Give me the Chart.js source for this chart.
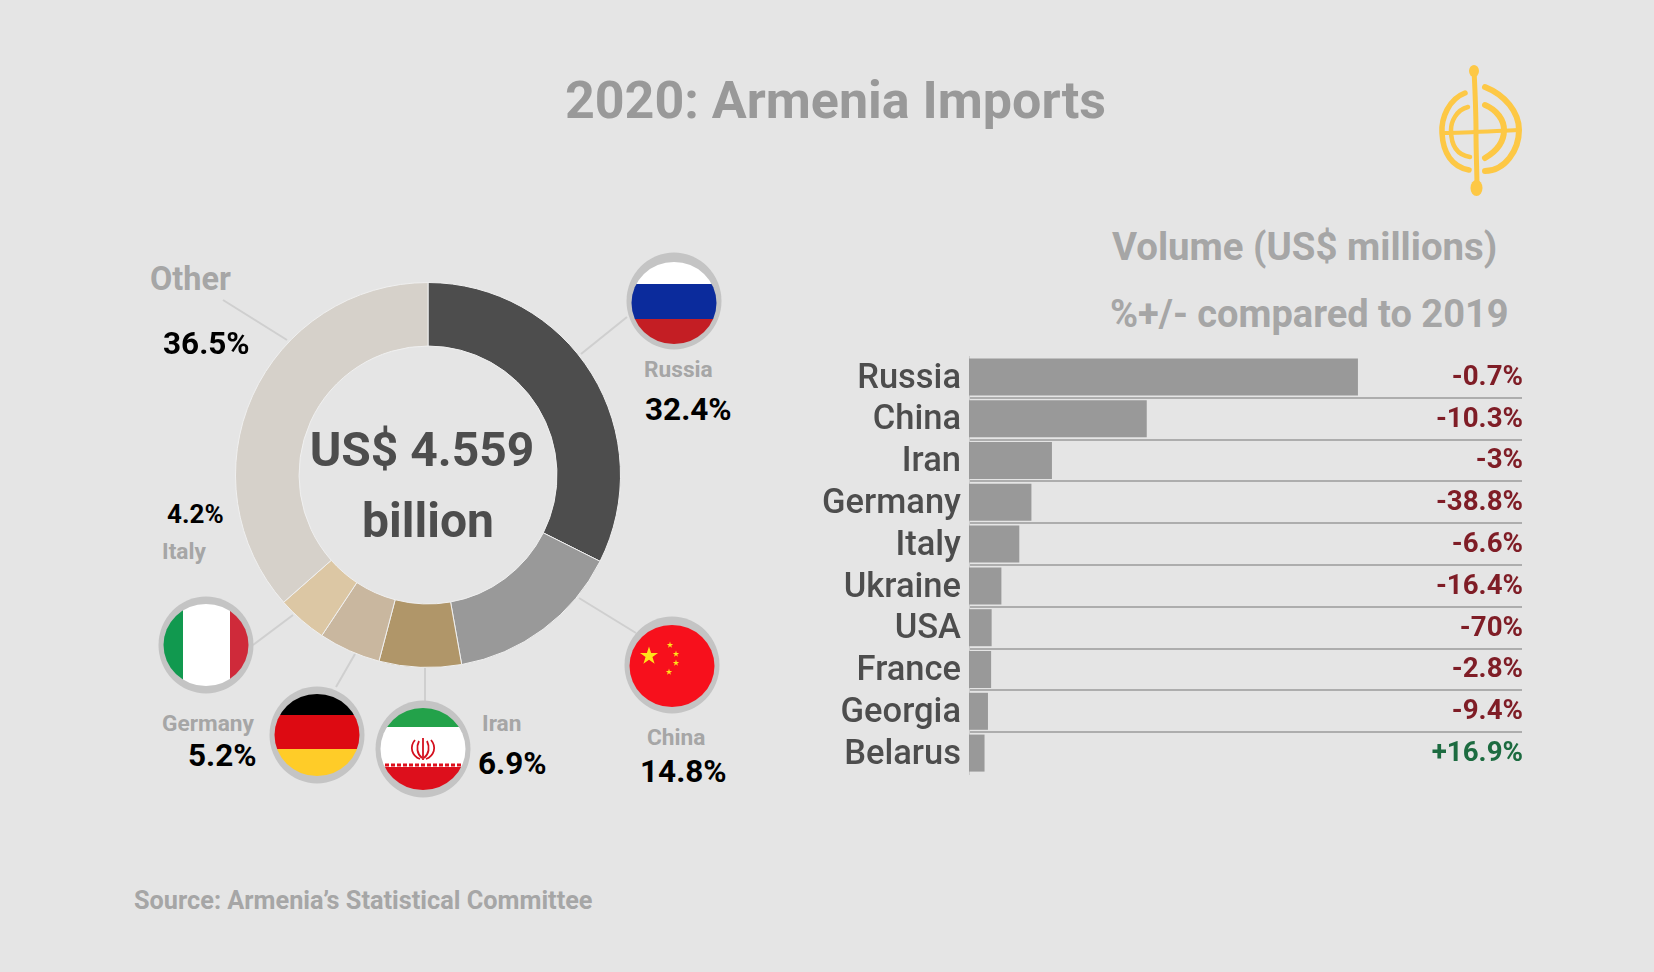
<!DOCTYPE html>
<html lang="en">
<head>
  <meta charset="UTF-8">
  <title>2020: Armenia Imports</title>
  <script src="https://cdn.jsdelivr.net/npm/chart.js"></script>
  <style>
    body {
      font-family: Roboto, sans-serif;
      font-weight: 700;
      margin: 0;
      width: 1654px;
      height: 972px;
      background-color: #e5e5e5;
      position: relative;
      overflow: hidden;
    }
    canvas, svg { position: absolute; }
    #art { left: 0; top: 0; }
    #donutChart { left: 235px; top: 282px; }
    #barChart { left: 800px; top: 340px; }
    .txt {
      position: absolute;
      line-height: 1;
      white-space: nowrap;
      transform: translateY(-50%);
    }
    .mid { transform: translate(-50%, -50%); }
    .name { color: #a6a6a6; font-size: 22.7px; }
    .share { color: #000; font-size: 31.5px; }
    .head { color: #a6a6a6; font-size: 38.4px; }
    .centre { color: #4d4d4d; font-size: 48px; }
  </style>
</head>
<body>
  <!-- Leader lines, flags and logo -->
  <svg id="art" width="1654" height="972" viewBox="0 0 1654 972">
    <defs>
      <clipPath id="disc"><ellipse cx="0" cy="0" rx="42.5" ry="41"/></clipPath>
      <polygon id="star" points="0,-1 .225,-.309 .951,-.309 .363,.118 .588,.809 0,.382 -.588,.809 -.363,.118 -.951,-.309 -.225,-.309"/>
    </defs>
    <g stroke="#cfcfcf" stroke-width="2">
      <line x1="223" y1="300" x2="287" y2="340"/>
      <line x1="581" y1="354" x2="627" y2="317"/>
      <line x1="579" y1="598" x2="636" y2="633"/>
      <line x1="293" y1="615" x2="253" y2="645"/>
      <line x1="355" y1="654" x2="336" y2="687"/>
      <line x1="425" y1="668" x2="425" y2="702"/>
    </g>

    <!-- Russia -->
    <g transform="translate(674 301)">
      <ellipse rx="47.5" ry="48.5" fill="#c4c4c4"/>
      <g clip-path="url(#disc)" transform="translate(0 2)">
        <rect x="-50" y="-50" width="100" height="31" fill="#fff"/>
        <rect x="-50" y="-19" width="100" height="35" fill="#0b2b9c"/>
        <rect x="-50" y="16" width="100" height="34" fill="#c41e24"/>
      </g>
    </g>
    <!-- China -->
    <g transform="translate(672 665)">
      <ellipse rx="47.5" ry="48.5" fill="#c4c4c4"/>
      <g clip-path="url(#disc)" transform="translate(0 1)">
        <rect x="-50" y="-50" width="100" height="100" fill="#f7101c"/>
        <use href="#star" fill="#ffe21a" transform="translate(-23 -10) scale(9.5)"/>
        <use href="#star" fill="#ffe21a" transform="translate(-2 -21) scale(3.4)"/>
        <use href="#star" fill="#ffe21a" transform="translate(4 -12) scale(3.4)"/>
        <use href="#star" fill="#ffe21a" transform="translate(4 -3) scale(3.4)"/>
        <use href="#star" fill="#ffe21a" transform="translate(-3 6) scale(3.4)"/>
      </g>
    </g>
    <!-- Italy -->
    <g transform="translate(206 645)">
      <ellipse rx="47.5" ry="48.5" fill="#c4c4c4"/>
      <g clip-path="url(#disc)">
        <rect x="-50" y="-50" width="27" height="100" fill="#11994f"/>
        <rect x="-23" y="-50" width="47" height="100" fill="#fff"/>
        <rect x="24" y="-50" width="26" height="100" fill="#cf2a3a"/>
      </g>
    </g>
    <!-- Germany -->
    <g transform="translate(317 735)">
      <ellipse rx="47.5" ry="48.5" fill="#c4c4c4"/>
      <g clip-path="url(#disc)">
        <rect x="-50" y="-50" width="100" height="30" fill="#000"/>
        <rect x="-50" y="-20" width="100" height="34" fill="#dd0a12"/>
        <rect x="-50" y="14" width="100" height="36" fill="#ffcc28"/>
      </g>
    </g>
    <!-- Iran -->
    <g transform="translate(423 749)">
      <ellipse rx="47.5" ry="48.5" fill="#c4c4c4"/>
      <g clip-path="url(#disc)">
        <rect x="-50" y="-50" width="100" height="28" fill="#23a24a"/>
        <rect x="-50" y="-22" width="100" height="40" fill="#fff"/>
        <rect x="-50" y="18" width="100" height="32" fill="#dd0f1c"/>
        <line x1="-50" x2="50" y1="-20" y2="-20" stroke="#fff" stroke-width="3" stroke-dasharray="4 2"/>
        <line x1="-50" x2="50" y1="16" y2="16" stroke="#dd0f1c" stroke-width="3" stroke-dasharray="4 2"/>
        <g fill="none" stroke="#d4101e" stroke-width="1.8">
          <line x1="0" y1="-11" x2="0" y2="11"/>
          <path d="M-4 -8 C-7 -2 -6 5 -1 9"/>
          <path d="M4 -8 C7 -2 6 5 1 9"/>
          <path d="M-8 -9 C-14 -2 -11 7 -3 10"/>
          <path d="M8 -9 C14 -2 11 7 3 10"/>
        </g>
      </g>
    </g>

    <!-- Logo -->
    <g fill="none" stroke="#fdc845" stroke-linecap="round">
      <path d="M1474 70 C1475 90 1476 110 1476 132 C1476 155 1477 170 1477 190" stroke-width="5"/>
      <path d="M1443 133 C1465 133 1495 131 1518 130" stroke-width="4"/>
      <path d="M1465 93 C1449 99 1441 118 1442 133 C1443 153 1452 167 1469 170" stroke-width="5.5"/>
      <path d="M1485 87 C1505 95 1519 112 1519 130 C1519 150 1505 171 1485 171" stroke-width="6"/>
      <path d="M1468 107 C1456 110 1451 122 1451 130 C1451 145 1457 155 1470 157" stroke-width="4.5"/>
      <path d="M1485 105 C1497 110 1504 120 1504 130 C1504 142 1497 151 1485 158" stroke-width="6"/>
    </g>
    <ellipse cx="1474" cy="71" rx="5" ry="6" fill="#fdc845"/>
    <ellipse cx="1476.5" cy="188" rx="6" ry="8" fill="#fdc845"/>
  </svg>

  <canvas id="donutChart" width="386" height="386"></canvas>
  <canvas id="barChart" width="740" height="450"></canvas>

  <!-- Text -->
  <div class="txt mid" style="left:835.5px;top:101px;font-size:52px;color:#999;">2020: Armenia Imports</div>
  <div class="txt head" style="left:1112px;top:247px;">Volume (US$ millions)</div>
  <div class="txt head" style="left:1110px;top:313.5px;font-size:38px;">%+/- compared to 2019</div>
  <div class="txt" style="left:134px;top:901px;font-size:25.3px;color:#a6a6a6;">Source: Armenia’s Statistical Committee</div>

  <div class="txt mid centre" style="left:422px;top:450px;" id="centreTop"></div>
  <div class="txt mid centre" style="left:428px;top:521px;" id="centreBottom"></div>

  <div class="txt name" id="name-5" style="left:150px;top:279px;font-size:32.4px;"></div>
  <div class="txt share" id="share-5" style="left:163px;top:344px;"></div>
  <div class="txt name" id="name-0" style="left:644px;top:370px;"></div>
  <div class="txt share" id="share-0" style="left:645px;top:410px;"></div>
  <div class="txt name" id="name-1" style="left:647px;top:738px;"></div>
  <div class="txt share" id="share-1" style="left:640px;top:772px;"></div>
  <div class="txt name" id="name-2" style="left:482px;top:724px;"></div>
  <div class="txt share" id="share-2" style="left:478px;top:764px;"></div>
  <div class="txt name" id="name-3" style="left:162px;top:724px;"></div>
  <div class="txt share" id="share-3" style="left:188px;top:756px;"></div>
  <div class="txt name" id="name-4" style="left:162px;top:552px;"></div>
  <div class="txt share" id="share-4" style="left:167px;top:514px;font-size:26px;"></div>

  <script>
    // Donut: share of total imports (%)
    const shareNames = ['Russia', 'China', 'Iran', 'Germany', 'Italy', 'Other'];
    const shareValues = [32.4, 14.8, 6.9, 5.2, 4.2, 36.5];
    const shareColors = ['#4d4d4d', '#999999', '#b09669', '#c9b79f', '#dcc7a4', '#d6d1ca'];
    const centreText = ['US$ 4.559', 'billion'];

    // Bars: volume in US$ millions, change compared to 2019
    const countries = ['Russia', 'China', 'Iran', 'Germany', 'Italy', 'Ukraine', 'USA', 'France', 'Georgia', 'Belarus'];
    const volumes = [1477, 675, 315, 237, 191, 123, 86, 84, 72, 59];
    const changes = ['-0.7%', '-10.3%', '-3%', '-38.8%', '-6.6%', '-16.4%', '-70%', '-2.8%', '-9.4%', '+16.9%'];

    shareNames.forEach((name, i) => {
      document.getElementById('name-' + i).textContent = name;
      document.getElementById('share-' + i).textContent = shareValues[i] + '%';
    });
    document.getElementById('centreTop').textContent = centreText[0];
    document.getElementById('centreBottom').textContent = centreText[1];

    new Chart(document.getElementById('donutChart'), {
      type: 'doughnut',
      data: {
        labels: shareNames,
        datasets: [{
          data: shareValues,
          backgroundColor: shareColors,
          borderColor: '#efefef',
          borderWidth: 1
        }]
      },
      options: {
        responsive: false,
        animation: false,
        cutout: '67%',
        plugins: { legend: { display: false }, tooltip: { enabled: false } }
      }
    });

    // Right hand column of % changes
    const changeColumn = {
      id: 'changeColumn',
      afterDatasetsDraw(chart) {
        const ctx = chart.ctx;
        const yScale = chart.scales.y;
        ctx.save();
        ctx.font = '700 27.7px Roboto';
        ctx.textAlign = 'right';
        ctx.textBaseline = 'middle';
        changes.forEach((label, i) => {
          ctx.fillStyle = label.startsWith('+') ? '#1c6b40' : '#7f1d26';
          ctx.fillText(label, chart.chartArea.right + 1, yScale.getPixelForValue(i) + 1);
        });
        ctx.restore();
      }
    };

    new Chart(document.getElementById('barChart'), {
      type: 'bar',
      data: {
        labels: countries,
        datasets: [{
          data: volumes,
          backgroundColor: '#999999',
          barPercentage: 0.885,
          categoryPercentage: 1
        }]
      },
      options: {
        indexAxis: 'y',
        responsive: false,
        animation: false,
        layout: { padding: { top: 16, bottom: 16, right: 18 } },
        scales: {
          x: { display: false, min: 0, max: 2100 },
          y: {
            afterFit: (scale) => {
              scale.width = 169;
              scale.paddingTop = 0;
              scale.paddingBottom = 0;
            },
            grid: {
              offset: true,
              drawTicks: false,
              lineWidth: 2,
              color: (c) => (c.index > 0 && c.index < countries.length) ? '#adadad' : 'transparent'
            },
            border: { color: '#cccccc', width: 1 },
            ticks: {
              autoSkip: false,
              padding: 8,
              labelOffset: 2,
              color: '#4d4d4d',
              font: { family: 'Roboto', size: 34.5, weight: '500' }
            }
          }
        },
        plugins: { legend: { display: false }, tooltip: { enabled: false } }
      },
      plugins: [changeColumn]
    });
  </script>
</body>
</html>
